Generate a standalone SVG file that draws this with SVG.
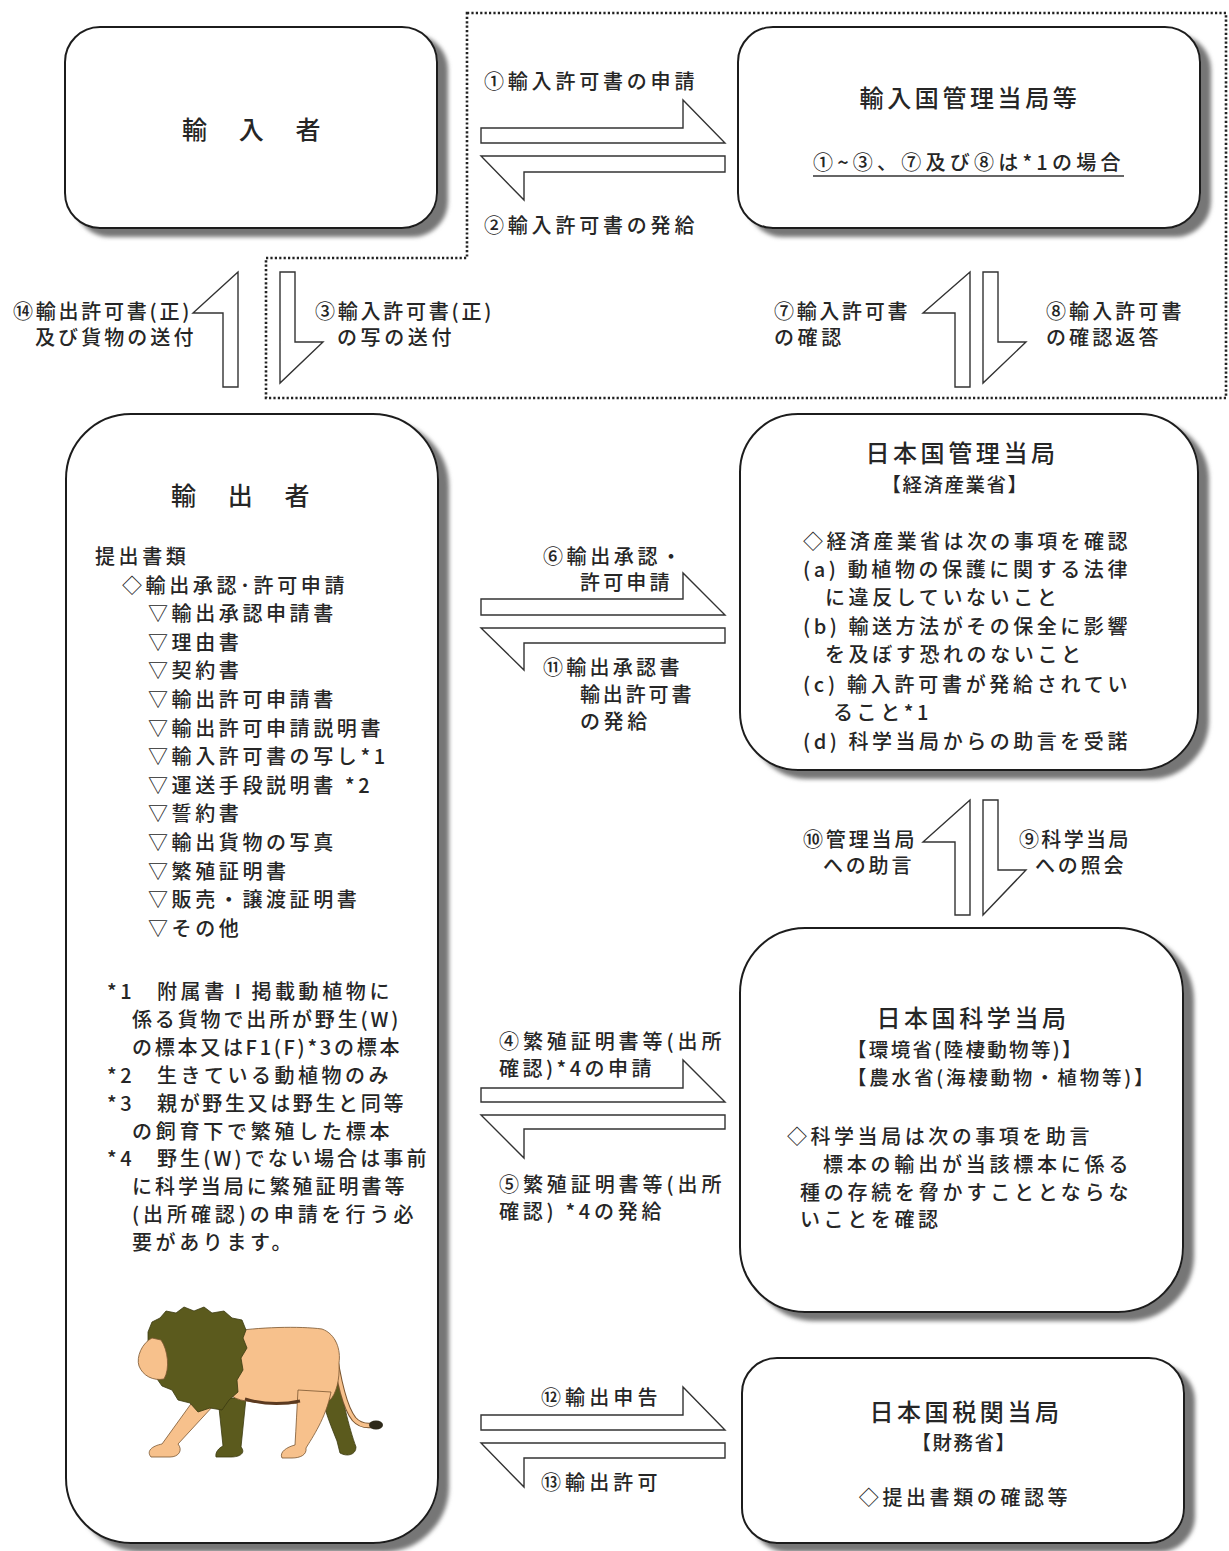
<svg xmlns="http://www.w3.org/2000/svg" width="1229" height="1551" viewBox="0 0 1229 1551">
  <style>
    text { font-family: "Noto Sans CJK JP", "Noto Sans CJK SC", sans-serif; fill: #262626; font-weight: 500; }
    .t { font-size: 20px; letter-spacing: 3.6px; }
    .h { font-size: 24px; letter-spacing: 3.6px; }
    .hb { font-size: 25px; letter-spacing: 3.4px; }
    .b { font-size: 19.5px; letter-spacing: 1.5px; }
    .box { fill: #ffffff; stroke: #1e1e1e; stroke-width: 2; filter: url(#shadow); }
    .arrow { fill: #ffffff; stroke: #333333; stroke-width: 1.4; stroke-linejoin: miter; }
    .zone { fill: none; stroke: #222222; stroke-width: 2.6; stroke-dasharray: 2.2 2.2; }
    .olive { fill: #5b5a1d; stroke: #3b3a10; stroke-width: 0.8; }
    .tan { fill: #f7c18c; stroke: #7a5530; stroke-width: 0.8; }
  </style>
  <defs>
    <filter id="shadow" x="-5%" y="-5%" width="120%" height="120%">
      <feGaussianBlur in="SourceAlpha" stdDeviation="2"/>
      <feOffset dx="10" dy="8" result="off"/>
      <feFlood flood-color="#767676"/>
      <feComposite in2="off" operator="in"/>
      <feMerge>
        <feMergeNode/>
        <feMergeNode in="SourceGraphic"/>
      </feMerge>
    </filter>
  </defs>

  <rect width="1229" height="1551" fill="#ffffff"/>

  <!-- dotted zone around the importing-country exchange -->
  <path class="zone" d="M467,13 H1226 V398 H266 V258 H467 Z"/>

  <!-- importer -->
  <g id="importer">
    <rect class="box" x="65" y="27" width="372" height="201" rx="35" ry="35"/>
    <text class="hb" x="253" y="139" text-anchor="middle">輸　入　者</text>
  </g>

  <!-- importing-country authority -->
  <g id="import-authority">
    <rect class="box" x="738" y="27" width="462" height="201" rx="35" ry="35"/>
    <text class="h" x="970" y="107" text-anchor="middle">輸入国管理当局等</text>
    <text class="t" x="813" y="170" textLength="311" lengthAdjust="spacing">①~③、⑦及び⑧は*1の場合</text>
    <line x1="813" y1="176" x2="1124" y2="176" stroke="#333333" stroke-width="1.3"/>
  </g>

  <!-- exporter -->
  <g id="exporter">
    <rect class="box" x="66" y="414" width="372" height="1129" rx="65" ry="65"/>
    <text class="hb" x="242" y="505" text-anchor="middle">輸　出　者</text>
    <text class="t" x="95" y="564">提出書類</text>
    <text class="t" x="122" y="593">◇輸出承認･許可申請</text>
    <text class="t" x="148" y="621">▽輸出承認申請書</text>
    <text class="t" x="148" y="650">▽理由書</text>
    <text class="t" x="148" y="678">▽契約書</text>
    <text class="t" x="148" y="707">▽輸出許可申請書</text>
    <text class="t" x="148" y="736">▽輸出許可申請説明書</text>
    <text class="t" x="148" y="764">▽輸入許可書の写し*1</text>
    <text class="t" x="148" y="793">▽運送手段説明書 *2</text>
    <text class="t" x="148" y="821">▽誓約書</text>
    <text class="t" x="148" y="850">▽輸出貨物の写真</text>
    <text class="t" x="148" y="879">▽繁殖証明書</text>
    <text class="t" x="148" y="907">▽販売・譲渡証明書</text>
    <text class="t" x="148" y="936">▽その他</text>

    <text class="t" x="107" y="999">*1</text>
    <text class="t" x="157" y="999" textLength="236" lengthAdjust="spacing">附属書Ⅰ掲載動植物に</text>
    <text class="t" x="132" y="1027" textLength="270" lengthAdjust="spacing">係る貨物で出所が野生(W)</text>
    <text class="t" x="132" y="1055" textLength="271" lengthAdjust="spacing">の標本又はF1(F)*3の標本</text>
    <text class="t" x="107" y="1083">*2</text>
    <text class="t" x="157" y="1083" textLength="235" lengthAdjust="spacing">生きている動植物のみ</text>
    <text class="t" x="107" y="1111">*3</text>
    <text class="t" x="157" y="1111" textLength="250" lengthAdjust="spacing">親が野生又は野生と同等</text>
    <text class="t" x="132" y="1139" textLength="261" lengthAdjust="spacing">の飼育下で繁殖した標本</text>
    <text class="t" x="107" y="1166">*4</text>
    <text class="t" x="157" y="1166" textLength="273" lengthAdjust="spacing">野生(W)でない場合は事前</text>
    <text class="t" x="132" y="1194" textLength="276" lengthAdjust="spacing">に科学当局に繁殖証明書等</text>
    <text class="t" x="132" y="1222" textLength="285" lengthAdjust="spacing">(出所確認)の申請を行う必</text>
    <text class="t" x="132" y="1250">要があります。</text>

    <!-- walking lion -->
    <g id="lion">
      <path class="olive" d="M318,1372 L336,1362 C341,1395 349,1428 356,1447 C356,1455 347,1457 340,1453 L337,1441 C329,1421 320,1400 318,1372 Z"/>
      <path class="olive" d="M218,1398 L246,1398 L241,1447 C246,1453 240,1457 231,1457 L216,1457 C215,1452 219,1448 223,1446 Z"/>
      <path d="M333,1342 C338,1378 345,1408 354,1419 C360,1426 368,1426 374,1425" fill="none" stroke="#7a5530" stroke-width="5.5" stroke-linecap="round"/>
      <path d="M333,1342 C338,1378 345,1408 354,1419 C360,1426 368,1426 374,1425" fill="none" stroke="#f7c18c" stroke-width="3.5" stroke-linecap="round"/>
      <ellipse cx="376" cy="1425" rx="7" ry="4.5" fill="#2e2a1a"/>
      <path class="tan" d="M228,1332 C258,1327 300,1326 322,1329 C336,1334 341,1350 339,1363 C340,1380 336,1394 330,1400 L310,1402 C290,1405 265,1404 246,1401 C231,1399 221,1390 220,1375 Z"/>
      <path class="tan" d="M298,1390 L331,1392 C326,1418 312,1438 306,1448 C307,1455 300,1458 292,1458 L282,1458 C279,1452 287,1447 295,1445 C296,1428 297,1408 298,1390 Z"/>
      <path class="tan" d="M206,1383 L226,1392 L178,1444 C183,1450 179,1457 170,1457 L151,1457 C146,1451 152,1446 162,1444 Z"/>
      <path class="olive" d="M148,1332 L152,1322 L160,1318 L166,1311 L176,1313 L184,1307 L194,1311 L204,1307 L212,1313 L224,1311 L232,1318 L242,1320 L246,1330 L243,1338 L247,1348 L241,1358 L243,1370 L237,1380 L238,1392 L229,1400 L222,1410 L210,1408 L198,1412 L190,1403 L178,1400 L172,1390 L162,1386 L155,1376 L150,1364 L146,1352 L148,1342 Z"/>
      <path class="tan" d="M152,1338 C142,1343 136,1357 139,1366 C143,1376 153,1381 164,1379 C170,1369 168,1350 161,1340 Z"/>
      <path d="M245,1399 C262,1404 282,1405 300,1401" fill="none" stroke="#5b3a20" stroke-width="3"/>
    </g>
  </g>

  <!-- Japan management authority -->
  <g id="management-authority">
    <rect class="box" x="740" y="414" width="458" height="356" rx="58" ry="58"/>
    <text class="h" x="962" y="462" text-anchor="middle">日本国管理当局</text>
    <text class="b" x="955" y="492" text-anchor="middle">【経済産業省】</text>
    <text class="t" x="803" y="549" textLength="328" lengthAdjust="spacing">◇経済産業省は次の事項を確認</text>
    <text class="t" x="803" y="577" textLength="328" lengthAdjust="spacing">(a) 動植物の保護に関する法律</text>
    <text class="t" x="825" y="605">に違反していないこと</text>
    <text class="t" x="803" y="634" textLength="328" lengthAdjust="spacing">(b) 輸送方法がその保全に影響</text>
    <text class="t" x="825" y="662">を及ぼす恐れのないこと</text>
    <text class="t" x="803" y="692" textLength="328" lengthAdjust="spacing">(c) 輸入許可書が発給されてい</text>
    <text class="t" x="833" y="720">ること*1</text>
    <text class="t" x="803" y="749" textLength="328" lengthAdjust="spacing">(d) 科学当局からの助言を受諾</text>
  </g>

  <!-- Japan scientific authority -->
  <g id="scientific-authority">
    <rect class="box" x="740" y="928" width="443" height="384" rx="65" ry="65"/>
    <text class="h" x="973" y="1027" text-anchor="middle">日本国科学当局</text>
    <text class="b" x="847" y="1057" textLength="236" lengthAdjust="spacing">【環境省(陸棲動物等)】</text>
    <text class="b" x="847" y="1085" textLength="308" lengthAdjust="spacing">【農水省(海棲動物・植物等)】</text>
    <text class="t" x="787" y="1144" textLength="306" lengthAdjust="spacing">◇科学当局は次の事項を助言</text>
    <text class="t" x="823" y="1172" textLength="309" lengthAdjust="spacing">標本の輸出が当該標本に係る</text>
    <text class="t" x="800" y="1200" textLength="332" lengthAdjust="spacing">種の存続を脅かすこととならな</text>
    <text class="t" x="800" y="1227">いことを確認</text>
  </g>

  <!-- Japan customs -->
  <g id="customs">
    <rect class="box" x="742" y="1358" width="442" height="185" rx="35" ry="35"/>
    <text class="h" x="966" y="1421" text-anchor="middle">日本国税関当局</text>
    <text class="b" x="964" y="1450" text-anchor="middle">【財務省】</text>
    <text class="t" x="965" y="1505" text-anchor="middle">◇提出書類の確認等</text>
  </g>

  <!-- block arrows and their step labels -->
  <g id="connectors">
    <g id="step1">
      <polygon class="arrow" points="481,128 683,128 683,100 725,143 481,143"/>
      <text class="t" x="484" y="89" textLength="214" lengthAdjust="spacing">①輸入許可書の申請</text>
    </g>
    <g id="step2">
      <polygon class="arrow" points="481,156 725,156 725,172 524,172 524,200"/>
      <text class="t" x="484" y="233" textLength="214" lengthAdjust="spacing">②輸入許可書の発給</text>
    </g>
    <g id="step3">
      <polygon class="arrow" points="280,272 295,272 295,342 323,342 280,383"/>
      <text class="t" x="315" y="319" textLength="180" lengthAdjust="spacing">③輸入許可書(正)</text>
      <text class="t" x="337" y="345" textLength="118" lengthAdjust="spacing">の写の送付</text>
    </g>
    <g id="step14">
      <polygon class="arrow" points="238,272 193,313 223,313 223,387 238,387"/>
      <text class="t" x="13" y="319" textLength="180" lengthAdjust="spacing">⑭輸出許可書(正)</text>
      <text class="t" x="35" y="345" textLength="162" lengthAdjust="spacing">及び貨物の送付</text>
    </g>
    <g id="step7">
      <polygon class="arrow" points="970,272 923,313 955,313 955,387 970,387"/>
      <text class="t" x="774" y="319" textLength="137" lengthAdjust="spacing">⑦輸入許可書</text>
      <text class="t" x="774" y="345">の確認</text>
    </g>
    <g id="step8">
      <polygon class="arrow" points="983,272 998,272 998,342 1026,342 983,383"/>
      <text class="t" x="1046" y="319" textLength="139" lengthAdjust="spacing">⑧輸入許可書</text>
      <text class="t" x="1046" y="345" textLength="116" lengthAdjust="spacing">の確認返答</text>
    </g>
    <g id="step6">
      <polygon class="arrow" points="481,599 683,599 683,573 725,615 481,615"/>
      <text class="t" x="543" y="564">⑥輸出承認・</text>
      <text class="t" x="580" y="590" textLength="93" lengthAdjust="spacing">許可申請</text>
    </g>
    <g id="step11">
      <polygon class="arrow" points="481,628 725,628 725,643 524,643 524,670"/>
      <text class="t" x="543" y="675" textLength="140" lengthAdjust="spacing">⑪輸出承認書</text>
      <text class="t" x="580" y="702" textLength="115" lengthAdjust="spacing">輸出許可書</text>
      <text class="t" x="580" y="729">の発給</text>
    </g>
    <g id="step10">
      <polygon class="arrow" points="970,800 923,842 955,842 955,915 970,915"/>
      <text class="t" x="803" y="847" textLength="115" lengthAdjust="spacing">⑩管理当局</text>
      <text class="t" x="823" y="873" textLength="92" lengthAdjust="spacing">への助言</text>
    </g>
    <g id="step9">
      <polygon class="arrow" points="983,800 998,800 998,870 1026,870 983,915"/>
      <text class="t" x="1019" y="847" textLength="113" lengthAdjust="spacing">⑨科学当局</text>
      <text class="t" x="1035" y="873" textLength="92" lengthAdjust="spacing">への照会</text>
    </g>
    <g id="step4">
      <polygon class="arrow" points="481,1088 683,1088 683,1060 725,1102 481,1102"/>
      <text class="t" x="499" y="1049" textLength="226" lengthAdjust="spacing">④繁殖証明書等(出所</text>
      <text class="t" x="499" y="1076" textLength="156" lengthAdjust="spacing">確認)*4の申請</text>
    </g>
    <g id="step5">
      <polygon class="arrow" points="481,1115 725,1115 725,1129 524,1129 524,1158"/>
      <text class="t" x="499" y="1192" textLength="226" lengthAdjust="spacing">⑤繁殖証明書等(出所</text>
      <text class="t" x="499" y="1219" textLength="166" lengthAdjust="spacing">確認) *4の発給</text>
    </g>
    <g id="step12">
      <polygon class="arrow" points="481,1415 683,1415 683,1387 725,1430 481,1430"/>
      <text class="t" x="541" y="1405" textLength="120" lengthAdjust="spacing">⑫輸出申告</text>
    </g>
    <g id="step13">
      <polygon class="arrow" points="481,1443 725,1443 725,1458 524,1458 524,1487"/>
      <text class="t" x="541" y="1490" textLength="120" lengthAdjust="spacing">⑬輸出許可</text>
    </g>
  </g>
</svg>
